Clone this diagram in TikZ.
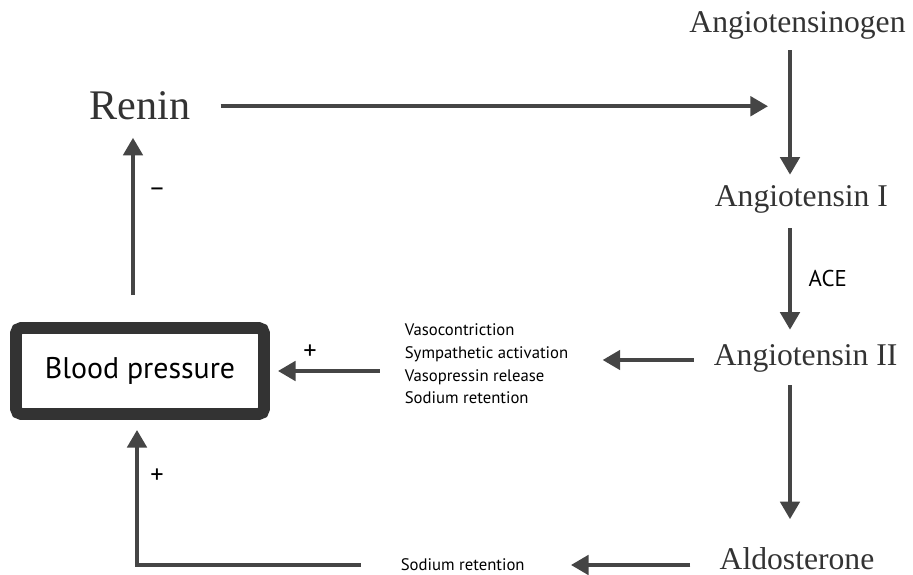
\documentclass[tikz,border=0pt]{standalone}
\usepackage{fontspec}
\setmainfont{Liberation Serif}
\newfontfamily\ptsans{PT Sans}
\usetikzlibrary{arrows.meta,positioning}
\definecolor{ink}{HTML}{333333}
\definecolor{shaft}{HTML}{454545}

\begin{document}
\begin{tikzpicture}[auto,
    stage/.style={text=ink,inner sep=2pt,font=\fontsize{18}{22}\selectfont},
    note/.style={inner sep=2pt,font=\ptsans\fontsize{9.5}{12.9}\selectfont,align=left},
    sign/.style={inner sep=1pt,font=\ptsans\fontsize{15}{17}\selectfont},
    arr/.style={draw=shaft,line width=2.2pt,-{Triangle[length=10pt,width=11pt]}}]
      \useasboundingbox (0,0) rectangle (18.26,11.48);
      \coordinate (spine) at (15.8,0);
      \coordinate (rise) at (2.66,0);
      \coordinate (back) at (2.74,0);
      % nodes
      \node[stage,anchor=base] (agen) at (15.95,10.82) {Angiotensinogen};
      \node[stage,anchor=base west] (ang1) at (14.22,7.34) {Angiotensin I};
      \node[stage,anchor=base west] (ang2) at (14.2,4.18) {Angiotensin II};
      \node[stage,anchor=base] (aldo) at (15.94,0.1) {Aldosterone};
      \node[stage,anchor=base,font=\fontsize{24}{28}\selectfont] (renin) at (2.8,9.08) {Renin};
      \node[draw=ink,line width=6.8pt,rounded corners=3pt,minimum width=4.96cm,minimum height=1.72cm,
            font=\ptsans\fontsize{17}{20}\selectfont] (bp) at (2.8,4.06) {Blood pressure};
      \node[note,anchor=west] (effects) at (8.02,4.2) {Vasocontriction\\Sympathetic activation\\Vasopressin release\\Sodium retention};
      \node[note,anchor=west] (sodium) at (7.94,0.18) {Sodium retention};
      % connectors
      \draw[arr,shorten <=0.53cm,shorten >=0.44cm] (renin.east) -- (renin.east -| spine);
      \draw[arr,shorten <=0.13cm,shorten >=0.15cm] (agen.south -| spine) -- (ang1.north -| spine);
      \draw[arr,shorten <=0.21cm,shorten >=0.21cm] (ang1.south -| spine) -- (ang2.north -| spine)
        node[sign,midway,right=0.3cm,font=\ptsans\fontsize{13}{15}\selectfont] (ace) {ACE};
      \draw[arr,shorten <=0.19cm,shorten >=0.48cm] (ang2.south -| spine) -- (aldo.north -| spine);
      \draw[arr,shorten <=0.33cm,shorten >=0.61cm] (ang2.west |- 0,4.28) -- (effects.east |- 0,4.28);
      \draw[arr,shorten <=0.51cm,shorten >=0.85cm] (aldo.west |- sodium) -- (sodium.east);
      \draw[arr,shorten <=0.43cm,shorten >=0.16cm] (effects.west |- bp) -- (bp.east);
      \draw[arr,shorten <=0.73cm,shorten >=0.2cm] (sodium.west) -- (sodium.west -| back) -- (bp.south -| back);
      \draw[arr,shorten <=0.54cm,shorten >=0.27cm] (bp.north -| rise) -- (renin.south -| rise);
      % signs
      \node[sign] (minus) at (3.14,7.64) {\textendash};
      \node[sign] (plus1) at (6.2,4.44) {+};
      \node[sign] (plus2) at (3.14,1.96) {+};
    \end{tikzpicture}
\end{document}
